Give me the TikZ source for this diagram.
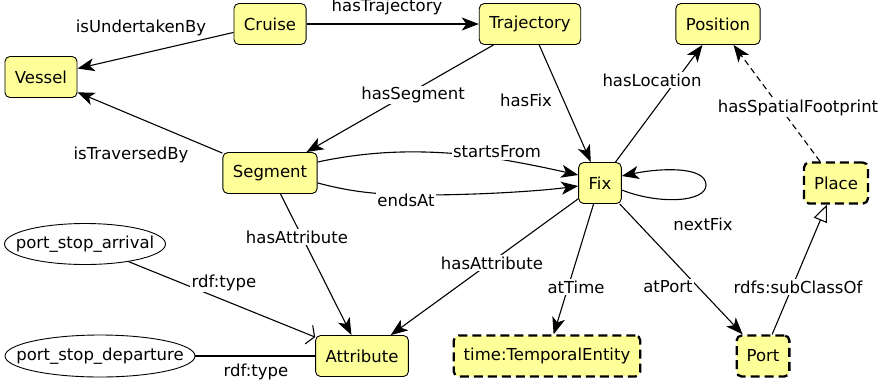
\documentclass[tikz,border=0pt]{standalone}
\usepackage{fontspec}
\setmainfont{DejaVu Sans}
\usetikzlibrary{arrows.meta,shapes.geometric,calc}
\definecolor{nodeyellow}{HTML}{FFFF99}
\begin{document}
\begin{tikzpicture}[x=1pt,y=-1pt,
  every node/.style={font=\fontsize{16.5}{20}\selectfont},
  cls/.style={draw, line width=0.9pt, fill=nodeyellow, rounded corners=5pt, inner xsep=10pt, inner ysep=0pt, minimum height=41pt},
  ext/.style={cls, line width=2.3pt, dash pattern=on 9pt off 5pt},
  inst/.style={draw, line width=0.9pt, ellipse, inner xsep=-40pt, inner ysep=-10pt},
  lbl/.style={fill=white, inner sep=1.5pt},
  arr/.style={line width=1.1pt, -{Stealth[length=17pt,width=13pt,inset=4.5pt]}},
  typearr/.style={line width=1.1pt, -{Straight Barb[length=6pt,width=20pt]}},
  subarr/.style={line width=1.1pt, -{Triangle[open,length=17pt,width=14pt,fill=white]}}
]
\useasboundingbox (0,0) rectangle (889,384);
% nodes
\node[cls] (cruise) at (270,24) {Cruise};
\node[cls] (traj) at (530,24) {Trajectory};
\node[cls] (pos) at (718,24) {Position};
\node[cls] (vessel) at (41,77) {Vessel};
\node[cls] (seg) at (270,173) {Segment};
\node[cls] (fix) at (600,183) {Fix};
\node[ext] (place) at (836,183) {Place};
\node[cls] (attr) at (362,356) {Attribute};
\node[ext] (te) at (547,356) {time:TemporalEntity};
\node[ext] (port) at (763,356) {Port};
\node[inst, minimum width=161pt, minimum height=41pt] (psa) at (85,244) {port\_stop\_arrival};
\node[inst, minimum width=190pt, minimum height=42pt] (psd) at (100,356) {port\_stop\_departure};
% edges
\draw[arr] (cruise) -- (vessel);
\draw[arr] (cruise) -- (traj);
\draw[arr] (traj) -- (seg);
\draw[arr] (traj) -- (fix);
\draw[arr] (seg) -- (vessel);
\draw[arr] ([yshift=11pt]seg.east) .. controls (360,153) and (400,150) .. (447,153) .. controls (480,155) and (520,162) .. ([yshift=8pt]fix.west);
\draw[arr] ([yshift=-10pt]seg.east) .. controls (345,190) and (370,195) .. (420,195) .. controls (480,195) and (540,191) .. ([yshift=-3pt]fix.west);
\draw[arr] ([yshift=-7pt]fix.east) .. controls (660,205) and (706,202) .. (706,185) .. controls (706,166) and (660,168) .. ([yshift=7pt]fix.east);
\draw[arr] (fix) -- (pos);
\draw[arr, dashed, dash pattern=on 6pt off 4pt] (place) -- (pos);
\draw[arr] (fix) -- (attr);
\draw[arr] (seg) -- (attr);
\draw[arr] (fix) -- (te);
\draw[arr] (fix) -- (port);
\draw[subarr] (port) -- (place);
\draw[typearr] (psa) -- (attr);
\draw[line width=1.1pt] (psd) -- (attr);
% labels
\node[lbl] (l1) at (141,28) {isUndertakenBy};
\node[lbl] (l2) at (387,7) {hasTrajectory};
\node[lbl] (l3) at (413,95) {hasSegment};
\node[lbl] (l4) at (526,100) {hasFix};
\node[lbl] (l5) at (131,155) {isTraversedBy};
\node[lbl] (l6) at (497,152) {startsFrom};
\node[lbl] (l7) at (406,200) {endsAt};
\node[lbl] (l8) at (703,224) {nextFix};
\node[lbl] (l9) at (652,80) {hasLocation};
\node[lbl] (l10) at (798,108) {hasSpatialFootprint};
\node[lbl] (l11) at (492,263) {hasAttribute};
\node[lbl] (l12) at (297,237) {hasAttribute};
\node[lbl] (l13) at (576,287) {atTime};
\node[lbl] (l14) at (668,287) {atPort};
\node[lbl] (l15) at (798,287) {rdfs:subClassOf};
\node[lbl] (l16) at (224,283) {rdf:type};
\node[lbl] (l17) at (256,372) {rdf:type};
\end{tikzpicture}
\end{document}
